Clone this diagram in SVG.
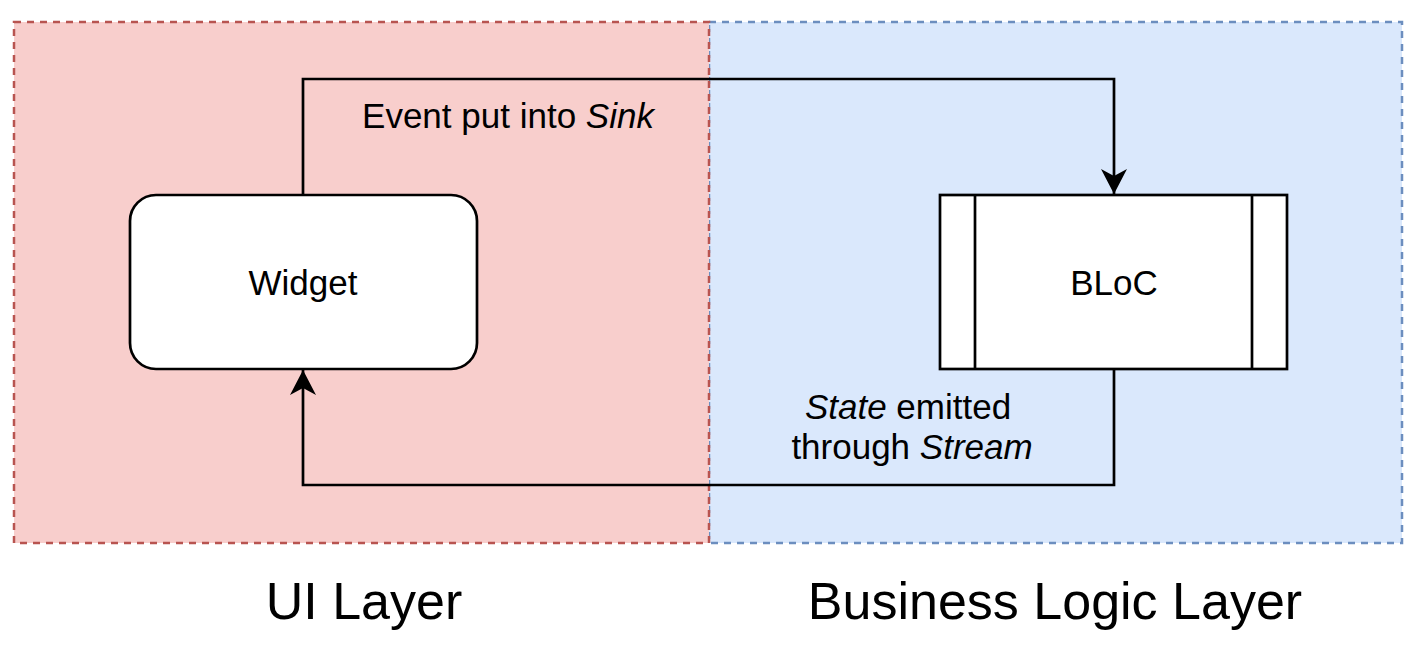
<svg xmlns="http://www.w3.org/2000/svg" width="1421" height="647" viewBox="0 0 1421 647">
<style>
text{font-family:"Liberation Sans",Arial,sans-serif;fill:#000}
.lbl{font-size:35px;text-anchor:middle}
.big{font-size:52px;text-anchor:middle}
.node{fill:#fff;stroke:#000;stroke-width:2.7}
.edge{fill:none;stroke:#000;stroke-width:2.7}
</style>
<defs>
<marker id="arr" markerWidth="26" markerHeight="26" refX="25" refY="13" orient="auto" markerUnits="userSpaceOnUse" viewBox="0 0 26 26">
<path d="M0,0 L25,13 L0,26 L7,13 Z" fill="#000"/>
</marker>
</defs>
<g id="business-layer">
<rect x="709" y="22" width="693" height="521" fill="#dae8fc" stroke="#6c8ebf" stroke-width="2.5" stroke-dasharray="7 6"/>
</g>
<g id="ui-layer">
<rect x="14" y="22" width="695" height="521" fill="#f8cecc" stroke="#b85450" stroke-width="2.5" stroke-dasharray="7 6"/>
</g>
<g id="connectors">
<path class="edge" d="M303,195 V79 H1114 V194" marker-end="url(#arr)"/>
<path class="edge" d="M1114,369 V485 H303 V370" marker-end="url(#arr)"/>
<text class="lbl" x="508" y="128">Event put into <tspan font-style="italic">Sink</tspan></text>
<text class="lbl" x="908" y="419"><tspan font-style="italic">State</tspan> emitted</text>
<text class="lbl" x="912" y="459">through <tspan font-style="italic">Stream</tspan></text>
</g>
<g id="widget">
<rect class="node" x="130" y="195" width="347" height="174" rx="26" ry="26"/>
<text class="lbl" x="303" y="295">Widget</text>
</g>
<g id="bloc">
<rect class="node" x="940" y="195" width="347" height="174"/>
<line x1="975" y1="195" x2="975" y2="369" stroke="#000" stroke-width="2.7"/>
<line x1="1252" y1="195" x2="1252" y2="369" stroke="#000" stroke-width="2.7"/>
<text class="lbl" x="1114" y="295">BLoC</text>
</g>
<g id="titles">
<text class="big" x="364" y="619">UI Layer</text>
<text class="big" x="1055" y="619">Business Logic Layer</text>
</g>
</svg>
